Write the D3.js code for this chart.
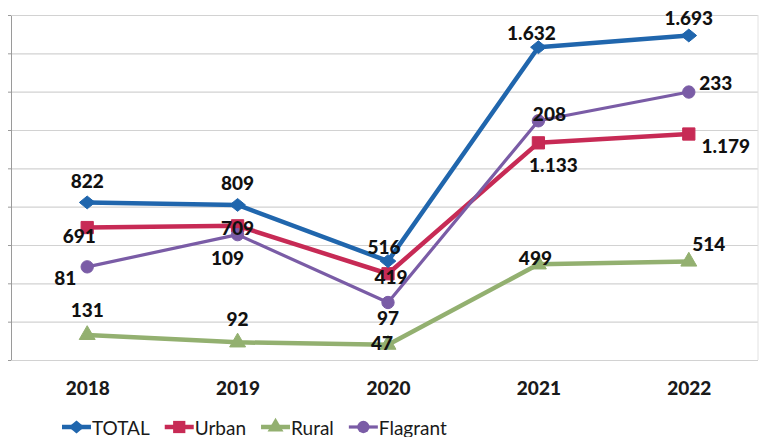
<!DOCTYPE html>
<html><head><meta charset="utf-8">
<script src="https://cdn.jsdelivr.net/npm/d3@7"></script>
<style>
html,body{margin:0;padding:0;background:#fff;}
svg{display:block;font-family:Lato,"Open Sans",sans-serif;}
</style></head>
<body><svg id="c" width="763" height="437"></svg>
<script>
// ---- data ----
const years = ["2018", "2019", "2020", "2021", "2022"];
const totalValues = [822, 809, 516, 1632, 1693];
const urbanValues = [691, 700, 450, 1133, 1179];
const ruralValues = [131, 92, 80, 499, 514];
const flagrantValues = [81, 109, 50, 208, 233];   // secondary scale
// printed data labels (differ from plotted positions in the source for 2020 / 2019)
const totalLabels = [822, 809, 516, 1632, 1693];
const urbanLabels = [691, 709, 419, 1133, 1179];
const ruralLabels = [131, 92, 47, 499, 514];
const flagrantLabels = [81, 109, 97, 208, 233];
const yTicks = [0, 200, 400, 600, 800, 1000, 1200, 1400, 1600, 1800];
const seriesNames = ["TOTAL", "Urban", "Rural", "Flagrant"];

// ---- layout / style ----
const svg = d3.select("#c");
const plotLeft = 12, plotRight = 764, plotTop = 15, plotBottom = 360;
const x = d3.scalePoint().domain(years).range([plotLeft, plotRight]).padding(0.5);
const y = d3.scaleLinear().domain([0, 1800]).range([plotBottom, plotTop]);
const y2 = d3.scaleLinear().domain([0, 300]).range([plotBottom, plotTop]);
const fmt = d3.formatLocale({decimal: ",", thousands: ".", grouping: [3], currency: ["", ""]}).format(",d");

// square rotated 45° (Excel-like diamond)
const symbolRhombus = {
  draw(ctx, size) {
    const r = Math.sqrt(size) / 1.6;
    ctx.moveTo(0, -r * 0.9); ctx.lineTo(r * 1.1, 0); ctx.lineTo(0, r * 0.9); ctx.lineTo(-r * 1.1, 0); ctx.closePath();
  }
};

const styles = {
  TOTAL:    {color: "#2066ad", width: 4.5, sym: symbolRhombus, size: 130, scale: y},
  Urban:    {color: "#c72a55", width: 4.5, sym: d3.symbolSquare, size: 150, scale: y},
  Rural:    {color: "#93b070", width: 4.5, sym: d3.symbolTriangle, size: 110, scale: y},
  Flagrant: {color: "#7a5ca6", width: 3.2, sym: d3.symbolCircle, size: 120, scale: y2}
};
// label offsets relative to each point [dx, dy]
const labelOffsets = {
  TOTAL:    [[0, -22], [0, -22], [-4, -15], [-7, -15], [0, -18]],
  Urban:    [[-8, 8], [0, 2], [3, 3], [15, 22], [37, 11]],
  Rural:    [[0, -25], [0, -24], [-6, -2], [-3, -7], [20, -18]],
  Flagrant: [[-22, 11], [-10, 23], [0, 15], [11, -7], [27, -10]]
};
const values = {TOTAL: totalValues, Urban: urbanValues, Rural: ruralValues, Flagrant: flagrantValues};
const labels = {TOTAL: totalLabels, Urban: urbanLabels, Rural: ruralLabels, Flagrant: flagrantLabels};

// gridlines via axis
svg.append("g").attr("transform", `translate(${plotLeft},0)`)
  .call(d3.axisLeft(y).tickValues(yTicks).tickSize(-(plotRight - plotLeft - 6)).tickFormat(""))
  .call(g => g.select(".domain").remove())
  .call(g => g.selectAll("line").attr("stroke", "#d2d2d2").attr("stroke-width", 1.2));
// left axis line with small ticks
svg.append("g").attr("transform", `translate(${plotLeft - 1},0)`)
  .call(d3.axisLeft(y).tickValues(yTicks).tickSize(3).tickSizeOuter(0).tickFormat(""))
  .call(g => g.select(".domain").attr("stroke", "#9a9a9a"))
  .call(g => g.selectAll("line").attr("stroke", "#9a9a9a"));
// faint right border
svg.append("line").attr("x1", 758).attr("x2", 758).attr("y1", plotTop).attr("y2", plotBottom)
  .attr("stroke", "#e2e2e2").attr("stroke-width", 1);

// x axis labels
svg.append("g").attr("transform", `translate(0,${plotBottom})`)
  .call(d3.axisBottom(x).tickSize(0).tickPadding(22))
  .call(g => g.select(".domain").remove())
  .call(g => g.selectAll("text").attr("font-family", "Lato, sans-serif").attr("font-weight", 900)
    .attr("font-size", 19).attr("fill", "#1a1a1a"));

const drawOrder = ["Rural", "Urban", "Flagrant", "TOTAL"];
drawOrder.forEach(name => {
  const st = styles[name], vals = values[name];
  const line = d3.line().x((d, i) => x(years[i])).y(d => st.scale(d));
  svg.append("path").datum(vals).attr("d", line).attr("fill", "none")
    .attr("stroke", st.color).attr("stroke-width", st.width).attr("stroke-linejoin", "round");
  svg.selectAll(null).data(vals).enter().append("path")
    .attr("d", d3.symbol().type(st.sym).size(st.size))
    .attr("transform", (d, i) => `translate(${x(years[i])},${st.scale(d)})`)
    .attr("fill", st.color).attr("stroke", st.color).attr("stroke-width", 1);
});

// data labels
drawOrder.forEach(name => {
  const st = styles[name], vals = values[name];
  svg.selectAll(null).data(vals).enter().append("text")
    .attr("x", (d, i) => x(years[i]) + labelOffsets[name][i][0])
    .attr("y", (d, i) => st.scale(d) + labelOffsets[name][i][1])
    .attr("text-anchor", "middle").attr("dominant-baseline", "central")
    .attr("font-weight", 900).attr("font-size", 19).attr("fill", "#111")
    .text((d, i) => fmt(labels[name][i]));
});

// legend
const lg = svg.append("g").attr("transform", "translate(62,427)");
let lx = 0;
seriesNames.forEach(name => {
  const st = styles[name];
  const g = lg.append("g").attr("transform", `translate(${lx},0)`);
  g.append("line").attr("x1", 0).attr("x2", 29).attr("y1", 0).attr("y2", 0)
    .attr("stroke", st.color).attr("stroke-width", st.width);
  g.append("path").attr("d", d3.symbol().type(st.sym).size(st.size))
    .attr("transform", "translate(14.5,0)").attr("fill", st.color);
  const t = g.append("text").attr("x", 30).attr("y", 0).attr("dominant-baseline", "central")
    .attr("font-size", 19).attr("fill", "#1a1a1a").text(name);
  lx += 30 + t.node().getComputedTextLength() + 15;
});
</script></body></html>
